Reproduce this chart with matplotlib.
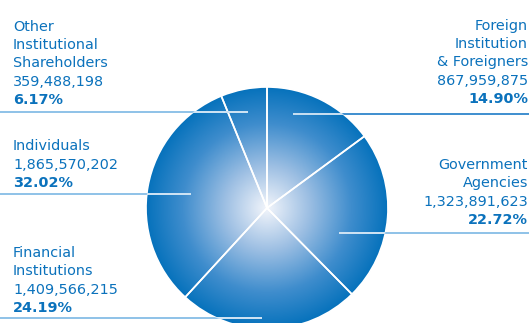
import numpy as np
import matplotlib
matplotlib.use("Agg")
import matplotlib.pyplot as plt
from matplotlib.patches import Circle
from matplotlib.colors import LinearSegmentedColormap

categories = ["Foreign\nInstitution\n& Foreigners", "Government\nAgencies",
              "Financial\nInstitutions", "Individuals", "Other\nInstitutional\nShareholders"]
shares = [867959875, 1323891623, 1409566215, 1865570202, 359488198]
percents = ["14.90%", "22.72%", "24.19%", "32.02%", "6.17%"]

W, H = 529, 323
fig = plt.figure(figsize=(W / 100, H / 100), dpi=100)
ax = fig.add_axes([0, 0, 1, 1])

blue = "#0B72BC"
cx, cy, R = 267, H - 208, 121

# radial gradient
n = 400
xs = np.linspace(cx - R, cx + R, n)
ys = np.linspace(cy - R, cy + R, n)
X, Y = np.meshgrid(xs, ys)
r = np.sqrt((X - cx) ** 2 + (Y - cy) ** 2) / R
cmap = LinearSegmentedColormap.from_list("g", [(0, "#F2F5FB"), (0.35, "#9DBFE3"), (0.7, "#3F8DCD"), (1.0, "#0672BC")])
img = ax.imshow(np.clip(r, 0, 1), extent=(cx - R, cx + R, cy - R, cy + R), origin="lower",
                cmap=cmap, vmin=0, vmax=1, interpolation="bilinear", zorder=1)
circ = Circle((cx, cy), R, transform=ax.transData, facecolor="none", edgecolor="none")
ax.add_patch(circ)
img.set_clip_path(circ)

ax.pie(shares, center=(cx, cy), radius=R, startangle=90, counterclock=False,
       colors=["none"] * len(shares),
       wedgeprops=dict(edgecolor="white", linewidth=1.2, zorder=2), frame=True)
ax.set_xlim(0, W)
ax.set_ylim(0, H)
ax.set_aspect("equal")
ax.axis("off")

light = "#86BDE6"
inner = "#D6E7F5"
# leader lines (pixel coords: x0, x1, y)
leaders = [(293, 529, 114, "#2F86CB"), (339, 529, 233, light), (0, 262, 318, light),
           (0, 191, 194, light), (0, 248, 112, light)]
for x0, x1, yy, c in leaders:
    ax.plot([x0, x1], [H - yy, H - yy], color=c, lw=1.3, zorder=3, solid_capstyle="butt")
    seg, = ax.plot([x0, x1], [H - yy, H - yy], color=inner, lw=1.3, zorder=3.1,
                   solid_capstyle="butt")
    seg.set_clip_path(circ)

# labels: x, last baseline (px), alignment
pos = [(528, 103, "right"), (528, 224, "right"), (13, 312, "left"), (13, 187, "left"), (13, 104, "left")]
font = "DejaVu Sans"
fs = 10.4
lh = 18.3
for cat, val, pct, (x, yb, ha) in zip(categories, shares, percents, pos):
    lines = cat.split("\n") + [f"{val:,}"]
    ax.text(x, H - yb, pct, ha=ha, va="baseline", fontsize=fs, fontweight="bold",
            color=blue, family=font, zorder=4)
    for i, ln in enumerate(reversed(lines)):
        ax.text(x, H - yb + lh * (i + 1), ln, ha=ha, va="baseline", fontsize=fs,
                color=blue, family=font, zorder=4)

fig.savefig("out.png", dpi=100)
